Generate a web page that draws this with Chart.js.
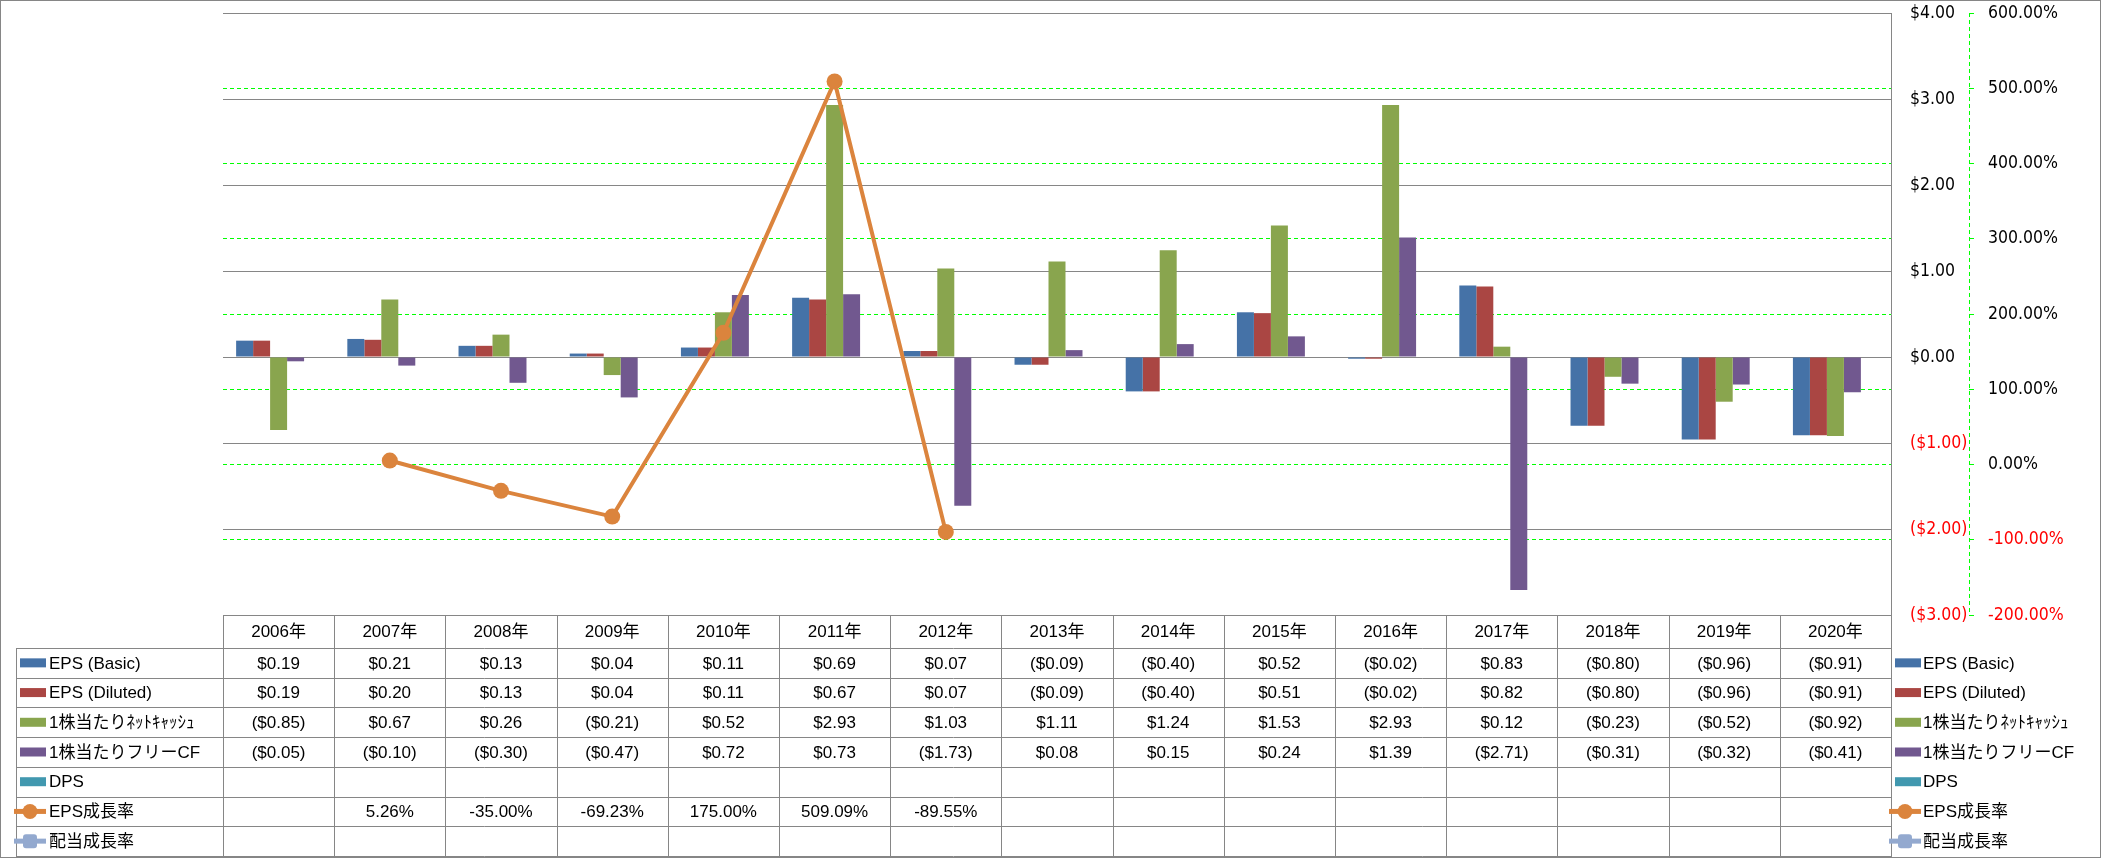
<!DOCTYPE html>
<html>
<head>
<meta charset="utf-8">
<script src="https://cdn.jsdelivr.net/npm/chart.js@4/dist/chart.umd.min.js"></script>
<style>
body{margin:0;background:#fff;overflow:hidden}
#wrap{position:relative;width:2101px;height:858px}
</style>
</head>
<body>
<div id="wrap"><canvas id="chart"></canvas></div>
<script>
const years = ['2006年','2007年','2008年','2009年','2010年','2011年','2012年','2013年','2014年','2015年','2016年','2017年','2018年','2019年','2020年']
const epsBasic = [0.19,0.21,0.13,0.04,0.11,0.69,0.07,-0.09,-0.40,0.52,-0.02,0.83,-0.80,-0.96,-0.91]
const epsDiluted = [0.19,0.20,0.13,0.04,0.11,0.67,0.07,-0.09,-0.40,0.51,-0.02,0.82,-0.80,-0.96,-0.91]
const netCash = [-0.85,0.67,0.26,-0.21,0.52,2.93,1.03,1.11,1.24,1.53,2.93,0.12,-0.23,-0.52,-0.92]
const freeCF = [-0.05,-0.10,-0.30,-0.47,0.72,0.73,-1.73,0.08,0.15,0.24,1.39,-2.71,-0.31,-0.32,-0.41]
const dps = [null,null,null,null,null,null,null,null,null,null,null,null,null,null,null]
const epsGrowth = [null,5.26,-35.00,-69.23,175.00,509.09,-89.55,null,null,null,null,null,null,null,null]
const divGrowth = [null,null,null,null,null,null,null,null,null,null,null,null,null,null,null]

const seriesNames = ['EPS (Basic)','EPS (Diluted)','1株当たりﾈｯﾄｷｬｯｼｭ','1株当たりフリーCF','DPS','EPS成長率','配当成長率']
const seriesColors = ['#4572A7','#AA4643','#89A54E','#71588F','#4198AF','#DB843D','#93A9CF']
const rows = [epsBasic, epsDiluted, netCash, freeCF, dps, epsGrowth, divGrowth]

const money = v => v == null ? '' : (v < 0 ? '($' + Math.abs(v).toFixed(2) + ')' : '$' + v.toFixed(2))
const pct = v => v == null ? '' : v.toFixed(2) + '%'
const fmt = (r, v) => r >= 5 ? pct(v) : money(v)

const gridGray = '#868686'
const green = '#00FF00'
const axisFamily = '"DejaVu Sans Condensed", "DejaVu Sans", sans-serif'
const tableFont = '17px "Liberation Sans", "Noto Sans CJK JP", sans-serif'
const negRed = c => c.tick.value < 0 ? '#FF0000' : '#000000'

// legend key like excel: box for bars, line + marker for lines
const drawKey = (ctx, i, x0, yc) => {
  const col = seriesColors[i]
  if (i < 5) {
    ctx.fillStyle = col
    ctx.fillRect(x0, yc - 4.5, 26, 9)
    return
  }
  ctx.strokeStyle = col
  ctx.lineWidth = 5
  ctx.beginPath(); ctx.moveTo(x0 - 6, yc); ctx.lineTo(x0 + 26, yc); ctx.stroke()
  ctx.fillStyle = col
  if (i === 5) {
    ctx.beginPath(); ctx.arc(x0 + 10, yc, 7.5, 0, Math.PI * 2); ctx.fill()
  } else {
    ctx.beginPath(); ctx.roundRect(x0 + 3, yc - 7, 14, 14, 3); ctx.fill()
  }
}

const dataTable = {
  id: 'dataTable',
  afterDraw(chart) {
    const ctx = chart.ctx
    const xs = chart.scales.x
    const area = chart.chartArea
    const colW = (area.right - area.left) / years.length
    const headTop = area.bottom, headBot = headTop + 33, tableBot = 856
    const rowH = (tableBot - headBot) / rows.length
    const line = (x1, y1, x2, y2) => { ctx.beginPath(); ctx.moveTo(x1, y1); ctx.lineTo(x2, y2); ctx.stroke() }
    ctx.save()
    ctx.strokeStyle = gridGray
    ctx.lineWidth = 1
    for (let r = 0; r <= rows.length; r++) {
      const y = Math.round(headBot + r * rowH) + 0.5
      line(16, y, area.right, y)
    }
    line(16.5, headBot, 16.5, tableBot)
    for (let c = 0; c <= years.length; c++) {
      const x = Math.round(area.left + c * colW) + 0.5
      line(x, headTop, x, tableBot)
    }
    line(Math.round(area.right) + 0.5, headTop, Math.round(area.right) + 0.5, 858)
    ctx.strokeRect(0.5, 0.5, 2100, 857)

    // secondary axis line, dashed like its gridlines
    const y2 = chart.scales.y2
    ctx.strokeStyle = green
    ctx.setLineDash([4, 3])
    line(Math.round(y2.left) + 0.5, y2.top, Math.round(y2.left) + 0.5, y2.bottom)
    ctx.setLineDash([])

    ctx.font = tableFont
    ctx.fillStyle = '#000'
    ctx.textAlign = 'center'
    ctx.textBaseline = 'middle'
    years.forEach((yr, c) => ctx.fillText(yr, xs.getPixelForValue(c), (headTop + headBot) / 2 + 1))
    rows.forEach((d, r) => {
      const yc = headBot + (r + 0.5) * rowH + 1
      ctx.fillStyle = '#000'
      ctx.textAlign = 'center'
      d.forEach((v, c) => { if (v != null) ctx.fillText(fmt(r, v), xs.getPixelForValue(c), yc) })
      drawKey(ctx, r, 20, yc - 1)
      drawKey(ctx, r, 1895, yc - 1)
      ctx.fillStyle = '#000'
      ctx.textAlign = 'left'
      ctx.fillText(seriesNames[r], 49, yc)
      ctx.fillText(seriesNames[r], 1923, yc)
    })
    ctx.restore()
  }
}

const noPad = s => { s.paddingTop = 0; s.paddingBottom = 0 }

const bars = [epsBasic, epsDiluted, netCash, freeCF, dps].map((d, i) => ({
  type: 'bar', label: seriesNames[i], data: d, yAxisID: 'y', order: 1,
  backgroundColor: seriesColors[i], borderWidth: 0,
  categoryPercentage: 0.764, barPercentage: 1
}))
const lines = [epsGrowth, divGrowth].map((d, i) => ({
  type: 'line', label: seriesNames[5 + i], data: d, yAxisID: 'y2', order: 0,
  borderColor: seriesColors[5 + i], backgroundColor: seriesColors[5 + i],
  borderWidth: 4, pointRadius: 8, pointHoverRadius: 8, pointBorderWidth: 0,
  pointStyle: i === 0 ? 'circle' : 'rectRounded', spanGaps: false
}))

new Chart(document.getElementById('chart'), {
  type: 'bar',
  data: { labels: years, datasets: [...bars, ...lines] },
  options: {
    responsive: true,
    maintainAspectRatio: false,
    animation: false,
    layout: { padding: { left: 223, top: 13, bottom: 243, right: 0 } },
    plugins: { legend: { display: false }, tooltip: { enabled: false } },
    scales: {
      x: { display: false, offset: true },
      y: {
        position: 'right', weight: 0, min: -3, max: 4,
        ticks: { stepSize: 1, padding: 19, color: negRed, callback: v => money(v), font: { family: axisFamily, size: 17.5 } },
        grid: { color: gridGray, drawTicks: false },
        border: { color: gridGray },
        afterFit: s => { s.width = 78; noPad(s) }
      },
      y2: {
        position: 'right', weight: 1, min: -200, max: 600,
        ticks: { stepSize: 100, padding: 14, color: negRed, callback: v => pct(v), font: { family: axisFamily, size: 17.5 } },
        grid: {
          color: c => c.tick && (c.tick.value === 600 || c.tick.value === -200) ? 'rgba(0,0,0,0)' : green,
          tickColor: green, tickLength: 5
        },
        border: { display: false, dash: [4, 3] },
        afterFit: s => { s.width = 132; noPad(s) }
      }
    }
  },
  plugins: [dataTable]
})
</script>
</body>
</html>
